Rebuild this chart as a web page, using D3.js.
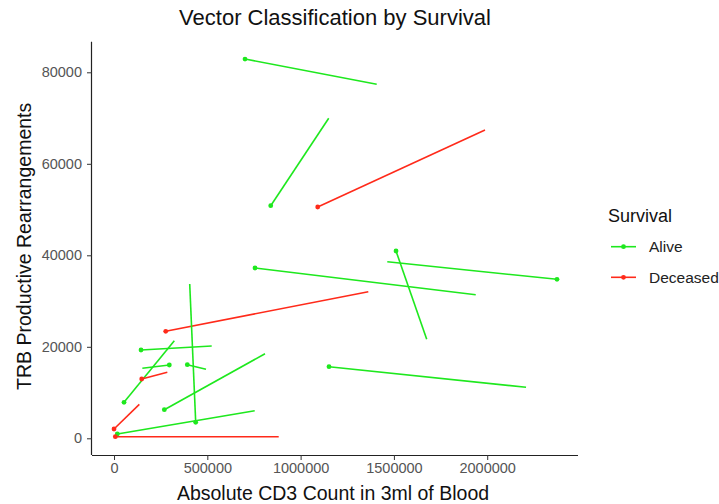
<!DOCTYPE html>
<html><head><meta charset="utf-8">
<script src="https://cdn.jsdelivr.net/npm/d3@7"></script>
<style>body{margin:0;background:#fff;font-family:"Liberation Sans",Arial,sans-serif;}</style>
</head><body><svg id="c" width="719" height="504"></svg>
<script>
// data: start point (dot) and end point of each vector
const survival = ["Alive","Alive","Deceased","Alive","Alive","Alive","Deceased","Alive","Alive","Alive","Alive","Alive","Alive","Deceased","Alive","Deceased","Alive","Deceased"];
const xStart = [702000, 839800, 1091600, 1511300, 2374000, 755600, 277100, 1152200, 437800, 144700, 53600, 296400, 392800, 148400, 269600, 0, 17700, 7000];
const yStart = [82900, 50840, 50560, 40940, 34750, 37220, 23390, 15650, 3500, 19300, 7870, 16020, 16090, 12960, 6250, 2030, 940, 350];
const xEnd = [1407800, 1150600, 1988200, 1675800, 1464600, 1938400, 1362800, 2208000, 405700, 523600, 323200, 151700, 493000, 285600, 809200, 135600, 754000, 882600];
const yEnd = [77380, 69950, 67390, 21640, 38600, 31390, 32040, 11150, 33730, 20170, 21330, 15300, 15080, 14430, 18490, 7430, 6030, 350];
const xTicks = [0, 500000, 1000000, 1500000, 2000000];
const yTicks = [0, 20000, 40000, 60000, 80000];
const groups = ["Alive", "Deceased"];

const svg = d3.select("#c");
const L = 92, R = 578, T = 41.7, B = 455;
const x = d3.scaleLinear().domain([-118000, 2486600]).range([L, R]);
const y = d3.scaleLinear().domain([-3650, 86690]).range([B, T]);
const color = d3.scaleOrdinal().domain(groups).range(["#1ee81e", "#ff2a1a"]);

const data = survival.map((s, i) => ({s, x0: xStart[i], y0: yStart[i], x1: xEnd[i], y1: yEnd[i]}));

const g = svg.append("g");
g.selectAll("line.seg").data(data).join("line").attr("class","seg")
  .attr("x1", d => x(d.x0)).attr("y1", d => y(d.y0))
  .attr("x2", d => x(d.x1)).attr("y2", d => y(d.y1))
  .attr("stroke", d => color(d.s)).attr("stroke-width", 1.6);
g.selectAll("circle").data(data).join("circle")
  .attr("cx", d => x(d.x0)).attr("cy", d => y(d.y0)).attr("r", 2.4)
  .attr("fill", d => color(d.s));

// axes
const xa = svg.append("g").attr("transform", `translate(0,${B})`)
  .call(d3.axisBottom(x).tickValues(xTicks).tickFormat(d3.format("d")).tickSize(5).tickPadding(4));
const ya = svg.append("g").attr("transform", `translate(${L},0)`)
  .call(d3.axisLeft(y).tickValues(yTicks).tickFormat(d3.format("d")).tickSize(5).tickPadding(5));
[xa, ya].forEach(a => {
  a.select(".domain").attr("stroke", "#222").attr("stroke-width", 1.2);
  a.selectAll(".tick line").attr("stroke", "#333");
  a.selectAll("text").attr("fill", "#555").style("font-size", "14.5px").style("font-family", "Liberation Sans, Arial, sans-serif");
});
xa.selectAll("text").attr("dy", "0.71em").attr("y", 8);
xa.select(".domain").attr("d", `M${L},0.5H${R}`);
ya.select(".domain").attr("d", `M-0.5,${B}V${T}`);

svg.append("text").attr("x", 335).attr("y", 25).attr("text-anchor", "middle")
  .style("font-size", "22px").attr("fill", "#111").text("Vector Classification by Survival");
svg.append("text").attr("x", 333).attr("y", 500).attr("text-anchor", "middle")
  .style("font-size", "19.5px").attr("fill", "#111").text("Absolute CD3 Count in 3ml of Blood");
svg.append("text").attr("transform", `translate(31,${(T+B)/2 - 2}) rotate(-90)`).attr("text-anchor", "middle")
  .style("font-size", "19.5px").attr("fill", "#111").text("TRB Productive Rearrangements");

// legend
const lg = svg.append("g");
lg.append("text").attr("x", 608).attr("y", 221.5).style("font-size", "18px").attr("fill", "#111").text("Survival");
const items = lg.selectAll("g.it").data(groups).join("g").attr("class","it")
  .attr("transform", (d, i) => `translate(0,${246.7 + i * 30.6})`);
items.append("line").attr("x1", 611).attr("x2", 636).attr("stroke", d => color(d)).attr("stroke-width", 1.6);
items.append("circle").attr("cx", 623.5).attr("r", 2.4).attr("fill", d => color(d));
items.append("text").attr("x", 649).attr("y", 5.5).style("font-size", "15.5px").attr("fill", "#222").text(d => d);
</script></body></html>
